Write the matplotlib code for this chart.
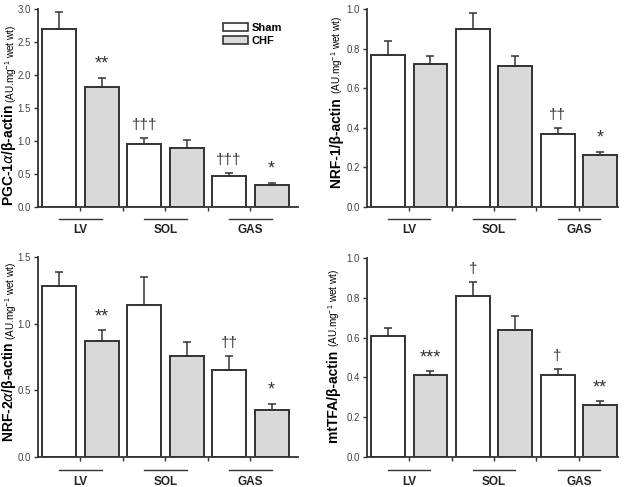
import matplotlib
matplotlib.use("Agg")
import matplotlib.pyplot as plt
import matplotlib.transforms as mtransforms
from matplotlib.patches import Patch
import numpy as np

plt.rcParams['font.family'] = ['Liberation Sans', 'DejaVu Sans']
plt.rcParams['mathtext.default'] = 'regular'

groups = ['LV', 'SOL', 'GAS']

# PGC-1alpha
pgc_sham = [2.70, 0.95, 0.47]
pgc_sham_sem = [0.25, 0.09, 0.05]
pgc_chf = [1.82, 0.90, 0.33]
pgc_chf_sem = [0.14, 0.12, 0.04]
pgc_sham_marks = ['', '\u2020\u2020\u2020', '\u2020\u2020\u2020']
pgc_chf_marks = ['**', '', '*']

# NRF-1
nrf1_sham = [0.77, 0.90, 0.37]
nrf1_sham_sem = [0.07, 0.08, 0.03]
nrf1_chf = [0.72, 0.71, 0.26]
nrf1_chf_sem = [0.04, 0.05, 0.02]
nrf1_sham_marks = ['', '', '\u2020\u2020']
nrf1_chf_marks = ['', '', '*']

# NRF-2alpha
nrf2_sham = [1.28, 1.14, 0.65]
nrf2_sham_sem = [0.11, 0.21, 0.11]
nrf2_chf = [0.87, 0.76, 0.35]
nrf2_chf_sem = [0.08, 0.10, 0.05]
nrf2_sham_marks = ['', '', '\u2020\u2020']
nrf2_chf_marks = ['**', '', '*']

# mtTFA
tfa_sham = [0.61, 0.81, 0.41]
tfa_sham_sem = [0.04, 0.07, 0.03]
tfa_chf = [0.41, 0.64, 0.26]
tfa_chf_sem = [0.02, 0.07, 0.02]
tfa_sham_marks = ['', '\u2020', '\u2020']
tfa_chf_marks = ['***', '', '**']

AX_COL = '#333333'
GREY = '#d9d9d9'

fig = plt.figure(figsize=(6.25, 4.87), dpi=100)


def panel(rect, xlim, sham, sham_sem, chf, chf_sem, sham_marks, chf_marks,
          ymax, yticks, ytfmt, name, line_y, lab_y):
    ax = fig.add_axes(rect)
    x_sham = np.arange(len(groups)) * 2
    x_chf = x_sham + 1
    ek = dict(ecolor=AX_COL, elinewidth=1.1, capsize=3, capthick=1.1)
    ax.bar(x_sham, sham, width=0.8, color='white', edgecolor=AX_COL,
           linewidth=1.4, yerr=[np.zeros(3), sham_sem], error_kw=ek, zorder=2)
    ax.bar(x_chf, chf, width=0.8, color=GREY, edgecolor=AX_COL,
           linewidth=1.4, yerr=[np.zeros(3), chf_sem], error_kw=ek, zorder=2)
    for xs, vals, sems, marks in ((x_sham, sham, sham_sem, sham_marks),
                                  (x_chf, chf, chf_sem, chf_marks)):
        for xi, v, s, m in zip(xs, vals, sems, marks):
            if m:
                star = '*' in m
                ax.text(xi, v + s + ymax * (0.025 if star else 0.03), m,
                        ha='center', va='bottom',
                        fontsize=13 if star else 11, color=AX_COL)
    ax.set_xlim(*xlim)
    ax.set_ylim(0, ymax)
    ax.set_yticks(yticks)
    ax.set_yticklabels([ytfmt % t for t in yticks], fontsize=7, color='#444444')
    ax.set_xticks(np.arange(0.5, 5, 1.0))
    ax.set_xticklabels([])
    ax.tick_params(direction='out', length=3, width=1, color=AX_COL, pad=2)
    for s in ('top', 'right'):
        ax.spines[s].set_visible(False)
    for s in ('left', 'bottom'):
        ax.spines[s].set_color(AX_COL)
        ax.spines[s].set_linewidth(1.3)

    trans = mtransforms.blended_transform_factory(ax.transData, ax.transAxes)
    for xs, xc, g in zip(x_sham, x_chf, groups):
        ax.plot([xs, xc], [line_y, line_y], color=AX_COL, lw=1.0,
                transform=trans, clip_on=False)
        ax.text((xs + xc) / 2, lab_y, g, transform=trans, ha='center',
                va='center', fontsize=8.5, fontweight='bold', color='#222222')

    # y label: bold name plus smaller unit
    t1 = ax.text(0, 0, name, rotation=90, fontsize=10, fontweight='bold',
                 ha='right', va='bottom', transform=ax.transAxes)
    t2 = ax.text(0, 0, '(AU.mg$^{-1}$ wet wt)', rotation=90, fontsize=7.2,
                 ha='right', va='bottom', transform=ax.transAxes)
    return ax, t1, t2


ax1, a1, b1 = panel([0.0608, 0.575, 0.416, 0.4066], (-0.5, 5.62),
                    pgc_sham, pgc_sham_sem, pgc_chf, pgc_chf_sem,
                    pgc_sham_marks, pgc_chf_marks,
                    3.0, np.arange(0, 3.01, 0.5), '%.1f',
                    'PGC-1$\\it{\\alpha}$/\u03b2-actin ', -0.06, -0.115)
ax2, a2, b2 = panel([0.587, 0.575, 0.4016, 0.4066], (-0.5, 5.42),
                    nrf1_sham, nrf1_sham_sem, nrf1_chf, nrf1_chf_sem,
                    nrf1_sham_marks, nrf1_chf_marks,
                    1.0, np.arange(0, 1.01, 0.2), '%.1f',
                    'NRF-1/\u03b2-actin ', -0.06, -0.115)
ax3, a3, b3 = panel([0.0608, 0.0616, 0.416, 0.4107], (-0.5, 5.62),
                    nrf2_sham, nrf2_sham_sem, nrf2_chf, nrf2_chf_sem,
                    nrf2_sham_marks, nrf2_chf_marks,
                    1.5, np.arange(0, 1.51, 0.5), '%.1f',
                    'NRF-2$\\it{\\alpha}$/\u03b2-actin ', -0.065, -0.125)
ax4, a4, b4 = panel([0.587, 0.0616, 0.4016, 0.4086], (-0.5, 5.42),
                    tfa_sham, tfa_sham_sem, tfa_chf, tfa_chf_sem,
                    tfa_sham_marks, tfa_chf_marks,
                    1.0, np.arange(0, 1.01, 0.2), '%.1f',
                    'mtTFA/\u03b2-actin ', -0.065, -0.125)

# legend on first panel
handles = [Patch(facecolor='white', edgecolor=AX_COL, linewidth=1.2, label='Sham'),
           Patch(facecolor=GREY, edgecolor=AX_COL, linewidth=1.2, label='CHF')]
ax1.legend(handles=handles, loc='upper left', bbox_to_anchor=(0.71, 0.93),
           frameon=False, prop={'weight': 'bold', 'size': 8},
           handlelength=2.3, handleheight=0.75, handletextpad=0.3,
           labelspacing=0.25, borderpad=0, borderaxespad=0)

# place the two-part y labels next to each axis
fig.canvas.draw()
r = fig.canvas.get_renderer()
inv = fig.transFigure.inverted()
for ax, t1, t2, xoff, yshift in ((ax1, a1, b1, 20, -7), (ax2, a2, b2, 23, 6),
                                 (ax3, a3, b3, 20, 5), (ax4, a4, b4, 26, 2)):
    bb = ax.get_window_extent(r)
    h1 = t1.get_window_extent(r).height
    h2 = t2.get_window_extent(r).height
    y0 = bb.y0 + bb.height / 2 - (h1 + h2) / 2 + yshift
    x = bb.x0 - xoff
    t1.set_transform(fig.transFigure)
    t2.set_transform(fig.transFigure)
    t1.set_position(inv.transform((x, y0)))
    t2.set_position(inv.transform((x + 1, y0 + h1)))

fig.savefig('out.png', dpi=100)
